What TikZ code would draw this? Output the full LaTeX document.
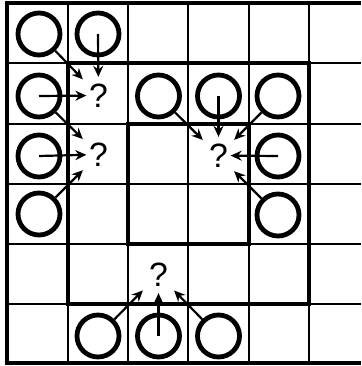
\documentclass[tikz,border=0pt]{standalone}
\usepackage{fontspec}
\setmainfont{Liberation Sans}
\usetikzlibrary{arrows.meta}

\begin{document}
\begin{tikzpicture}[x=.5mm,y=-.5mm,
grid/.style={black,line width=1mm},
frame/.style={black,line width=1.8mm},
stone/.style={circle,draw=black,line width=2.4mm,minimum size=21mm,inner sep=0pt},
qmark/.style={inner sep=0pt,minimum width=12mm,minimum height=18.5mm,font=\fontsize{48}{50}\selectfont},
arr/.style={black,line width=1.1mm,-{Stealth[length=5.5mm,width=5mm]}},
diag/.style={arr,shorten >=2.5mm}]
\useasboundingbox (0,0) rectangle (361,366);
\foreach \x in {68,128,188,249,309} \draw[grid] (\x,3) -- (\x,363);
\foreach \y in {63,124,184,244,304} \draw[grid] (7,\y) -- (361,\y);
\draw[frame] (361,3) -- (7,3) -- (7,363) -- (361,363);
\draw[frame] (68,63) rectangle (309,304);
\draw[frame] (128,124) rectangle (249,244);
\node[stone] (c00) at (39,34) {};
\node[stone] (c10) at (98,34) {};
\node[stone] (c01) at (39,96) {};
\node[stone] (c21) at (158.5,96) {};
\node[stone] (c31) at (218.5,96) {};
\node[stone] (c41) at (278,96) {};
\node[stone] (c02) at (39,156) {};
\node[stone] (c42) at (278,156) {};
\node[stone] (c03) at (39,214) {};
\node[stone] (c43) at (278,215) {};
\node[stone] (c15) at (98,336) {};
\node[stone] (c25) at (158.5,336) {};
\node[stone] (c35) at (218.5,336) {};
\node[qmark] (q11) at (98.5,95.5) {?};
\node[qmark] (q12) at (98.5,154.5) {?};
\node[qmark] (q32) at (218.5,155.5) {?};
\node[qmark] (q24) at (158.5,274.5) {?};
\draw[diag] (c00) -- (q11);
\draw[arr] (c10.center) -- (q11);
\draw[arr] (c01.center) -- (q11);
\draw[diag] (c01) -- (q12);
\draw[arr] (c02.center) -- (q12);
\draw[diag] (c03) -- (q12);
\draw[diag] (c21) -- (q32);
\draw[arr] (c31.center) -- (q32);
\draw[diag] (c41) -- (q32);
\draw[arr] (c42.center) -- (q32);
\draw[diag] (c43) -- (q32);
\draw[diag] (c15) -- (q24);
\draw[arr] (c25.center) -- (q24);
\draw[diag] (c35) -- (q24);
\end{tikzpicture}
\end{document}
